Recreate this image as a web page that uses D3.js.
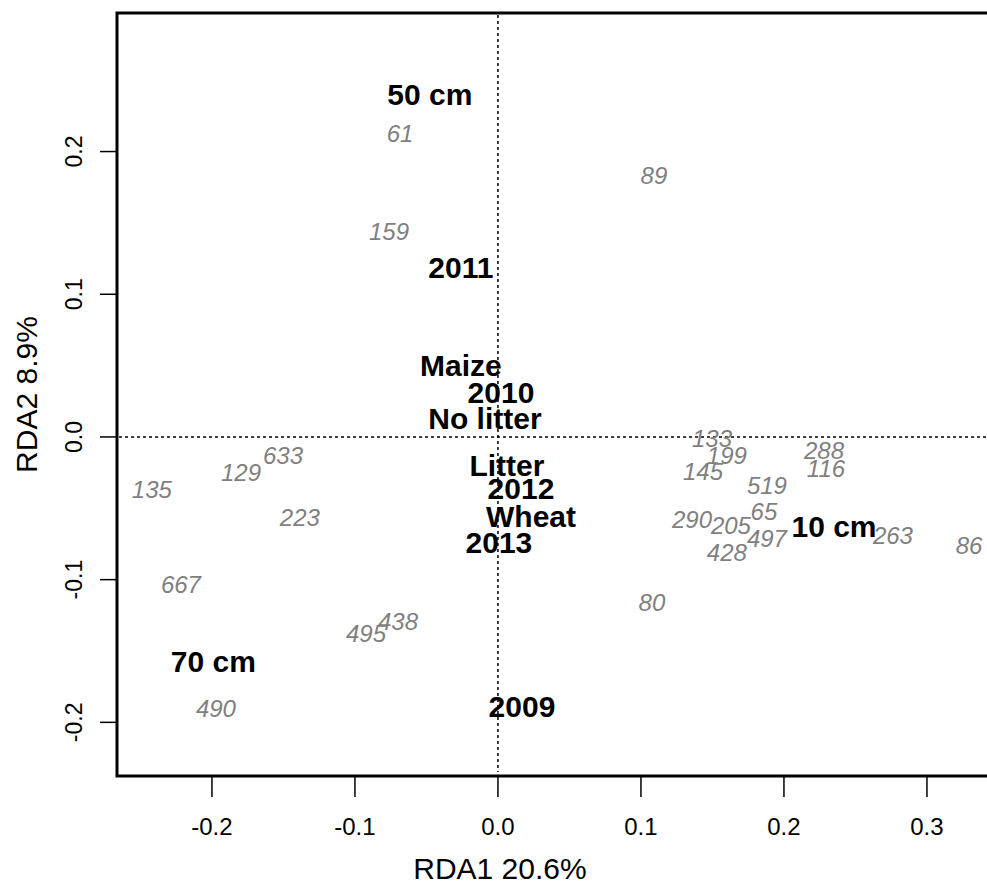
<!DOCTYPE html>
<html>
<head>
<meta charset="utf-8">
<script src="https://cdn.jsdelivr.net/npm/d3@7"></script>
<style>
  body { margin: 0; background: #fff; }
  text { font-family: "Liberation Sans", Arial, sans-serif; }
</style>
</head>
<body>
<script>
// species / OTU scores (gray italic labels)
const speciesNames = ["61", "159", "89", "633", "129", "135", "223", "667", "438", "495", "490",
    "133", "199", "145", "288", "116", "519", "65", "290", "205", "497", "428", "263", "86", "80"];
const speciesRDA1 = [-0.0685, -0.0762, 0.1091, -0.1503, -0.1797, -0.2420, -0.1385, -0.2217, -0.0699, -0.0923, -0.1972,
    0.1497, 0.1601, 0.1434, 0.2280, 0.2294, 0.1881, 0.1860, 0.1357, 0.1629, 0.1881, 0.1601, 0.2762, 0.3294, 0.1077];
const speciesRDA2 = [0.2130, 0.1444, 0.1836, -0.0130, -0.0245, -0.0364, -0.0561, -0.1030, -0.1289, -0.1374, -0.1899,
    -0.0007, -0.0130, -0.0243, -0.0091, -0.0217, -0.0336, -0.0522, -0.0578, -0.0620, -0.0711, -0.0806, -0.0691, -0.0757, -0.1156];

// factor centroids (black bold labels)
const centroidNames = ["50 cm", "2011", "Maize", "2010", "No litter", "Litter", "2012", "Wheat", "2013", "2009", "70 cm", "10 cm"];
const centroidRDA1 = [-0.0476, -0.0259, -0.0259, 0.0021, -0.0091, 0.0063, 0.0161, 0.0231, 0.0007, 0.0168, -0.1990, 0.2350];
const centroidRDA2 = [0.2404, 0.1188, 0.0501, 0.0315, 0.0130, -0.0196, -0.0357, -0.0554, -0.0736, -0.1885, -0.1570, -0.0624];

const xTicks = [-0.2, -0.1, 0.0, 0.1, 0.2, 0.3];
const yTicks = [-0.2, -0.1, 0.0, 0.1, 0.2];

const W = 987, H = 884;
const plotLeft = 117, plotTop = 13, plotBottom = 776;

// plain hyphen for negatives, like R does
const fmt = d => d.toFixed(1);

// same scale on both axes (asp = 1)
const x = d3.scaleLinear().domain([-0.2664, 0.36]).range([plotLeft, plotLeft + 0.6264 * 1430]);
const y = d3.scaleLinear().domain([-0.2376, 0.2971]).range([plotBottom, plotTop]);

const svg = d3.select("body").append("svg")
    .attr("width", W)
    .attr("height", H);

// dotted zero lines
svg.append("line")
    .attr("x1", x(0)).attr("x2", x(0))
    .attr("y1", plotTop + 2).attr("y2", plotBottom - 4)
    .attr("stroke", "#000").attr("stroke-width", 1.5)
    .attr("stroke-dasharray", "3,3");
svg.append("line")
    .attr("x1", plotLeft + 2).attr("x2", W)
    .attr("y1", y(0)).attr("y2", y(0))
    .attr("stroke", "#000").attr("stroke-width", 1.5)
    .attr("stroke-dasharray", "3,3");

// species labels
svg.append("g").selectAll("text")
    .data(speciesNames)
    .enter()
    .append("text")
    .attr("x", (d, i) => x(speciesRDA1[i]))
    .attr("y", (d, i) => y(speciesRDA2[i]))
    .attr("dy", "0.36em")
    .attr("text-anchor", "middle")
    .attr("font-size", 24)
    .attr("font-style", "italic")
    .attr("fill", "#7f7f7f")
    .text(d => d);

// centroid labels
svg.append("g").selectAll("text")
    .data(centroidNames)
    .enter()
    .append("text")
    .attr("x", (d, i) => x(centroidRDA1[i]))
    .attr("y", (d, i) => y(centroidRDA2[i]))
    .attr("dy", "0.36em")
    .attr("text-anchor", "middle")
    .attr("font-size", 30)
    .attr("font-weight", "bold")
    .attr("fill", "#000")
    .text(d => d);

// frame
svg.append("rect")
    .attr("x", plotLeft).attr("y", plotTop)
    .attr("width", x.range()[1] - plotLeft)
    .attr("height", plotBottom - plotTop)
    .attr("fill", "none")
    .attr("stroke", "#000")
    .attr("stroke-width", 3);

// x axis
const xAxis = svg.append("g");
xAxis.selectAll("line")
    .data(xTicks)
    .enter()
    .append("line")
    .attr("x1", d => x(d)).attr("x2", d => x(d))
    .attr("y1", plotBottom).attr("y2", plotBottom + 21)
    .attr("stroke", "#000").attr("stroke-width", 1.5);
xAxis.selectAll("text")
    .data(xTicks)
    .enter()
    .append("text")
    .attr("x", d => x(d))
    .attr("y", 835)
    .attr("text-anchor", "middle")
    .attr("font-size", 24)
    .text(fmt);

// y axis
const yAxis = svg.append("g");
yAxis.selectAll("line")
    .data(yTicks)
    .enter()
    .append("line")
    .attr("x1", plotLeft - 17).attr("x2", plotLeft)
    .attr("y1", d => y(d)).attr("y2", d => y(d))
    .attr("stroke", "#000").attr("stroke-width", 1.5);
yAxis.selectAll("text")
    .data(yTicks)
    .enter()
    .append("text")
    .attr("transform", d => "translate(82," + y(d) + ") rotate(-90)")
    .attr("text-anchor", "middle")
    .attr("font-size", 23)
    .text(fmt);

// axis titles
svg.append("text")
    .attr("x", x(0) + 2)
    .attr("y", 879)
    .attr("text-anchor", "middle")
    .attr("font-size", 30)
    .text("RDA1 20.6%");
svg.append("text")
    .attr("transform", "translate(37," + ((plotTop + plotBottom) / 2) + ") rotate(-90)")
    .attr("text-anchor", "middle")
    .attr("font-size", 30)
    .text("RDA2 8.9%");
</script>
</body>
</html>
